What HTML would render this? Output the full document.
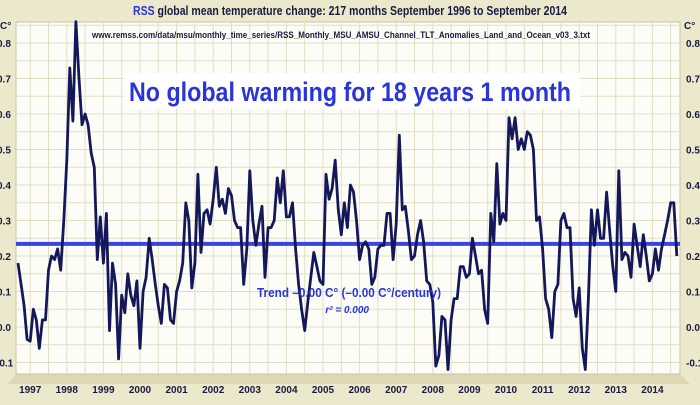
<!DOCTYPE html>
<html><head><meta charset="utf-8">
<style>
html,body{margin:0;padding:0;background:#ece8cc;}
body{width:700px;height:400px;overflow:hidden;font-family:"Liberation Sans",Arial,sans-serif;}
</style></head>
<body>
<svg id="chart" width="700" height="400" xmlns="http://www.w3.org/2000/svg">
<rect x="0" y="0" width="700" height="400" fill="#ece8cc"/>
<polygon points="16,374 680,374 690,384 8,384" fill="#dcd7b4"/>
<rect x="16" y="22" width="664" height="352" fill="#fdfdf8" stroke="#c9c4a4"/>
<g id="grid"></g>
<g id="yl"></g>
<g id="yr"></g>
<g id="xl"></g>
<text x="133" y="15" textLength="434" lengthAdjust="spacingAndGlyphs" font-size="12.5" font-weight="bold" fill="#1a1a40"><tspan fill="#2a35d8">RSS</tspan> global mean temperature change: 217 months September 1996 to September 2014</text>
<text x="92" y="38" textLength="498" lengthAdjust="spacingAndGlyphs" font-size="9" font-weight="bold" fill="#1a1a40">www.remss.com/data/msu/monthly_time_series/RSS_Monthly_MSU_AMSU_Channel_TLT_Anomalies_Land_and_Ocean_v03_3.txt</text>
<rect x="124" y="73" width="456" height="36" fill="#ffffff"/>
<text x="129" y="101" textLength="442" lengthAdjust="spacingAndGlyphs" font-size="27" font-weight="bold" fill="#2a35d8">No global warming for 18 years 1 month</text>
<line id="trend" x1="16" x2="680" stroke="#3a44e0" stroke-width="4"/>
<path id="series" fill="none" stroke="#14185a" stroke-width="2.8" stroke-linejoin="round"/>
<text x="257" y="297" textLength="184" lengthAdjust="spacingAndGlyphs" font-size="13" font-weight="bold" fill="#2a35d8">Trend –0.00 C° (–0.00 C°/century)</text>
<text x="369" y="313" text-anchor="end" font-size="10" font-style="italic" font-weight="bold" fill="#2a35d8">r² = 0.000</text>
</svg>
<script>
const values = [0.18,0.12,0.06,-0.035,-0.04,0.05,0.02,-0.06,0.02,0.02,0.16,0.20,0.19,0.22,0.16,0.30,
0.47,0.73,0.58,0.86,0.70,0.57,0.60,0.57,0.49,0.45,0.19,0.31,
0.18,0.32,-0.01,0.18,0.12,-0.09,0.09,0.04,0.15,0.09,0.06,0.13,
-0.06,0.10,0.14,0.25,0.19,0.12,0.06,0.01,0.12,0.11,0.02,0.01,
0.10,0.13,0.18,0.35,0.30,0.11,0.18,0.43,0.21,0.32,0.33,0.29,
0.36,0.45,0.34,0.36,0.32,0.39,0.37,0.30,0.28,0.28,0.12,0.22,
0.44,0.30,0.23,0.29,0.34,0.14,0.28,0.28,0.30,0.42,0.35,0.44,
0.31,0.31,0.35,0.22,0.12,0.05,-0.01,0.07,0.14,0.21,0.17,0.13,
0.12,0.43,0.36,0.39,0.47,0.33,0.26,0.35,0.28,0.40,0.38,0.30,
0.19,0.23,0.24,0.22,0.12,0.14,0.22,0.23,0.23,0.32,0.32,0.19,
0.29,0.54,0.33,0.34,0.27,0.19,0.20,0.26,0.30,0.24,0.13,0.12,
0.07,-0.11,-0.08,0.03,0.02,-0.12,0.02,0.08,0.08,0.17,0.17,0.14,
0.15,0.25,0.20,0.15,0.16,0.05,0.01,0.32,0.24,0.46,0.29,0.32,
0.30,0.59,0.53,0.59,0.50,0.53,0.50,0.55,0.54,0.50,0.30,0.31,
0.22,0.08,0.05,-0.03,0.10,0.12,0.30,0.32,0.28,0.28,0.08,0.03,
0.11,-0.06,-0.12,0.08,0.33,0.23,0.33,0.25,0.25,0.38,0.27,0.17,
0.10,0.44,0.19,0.21,0.20,0.14,0.29,0.23,0.17,0.26,0.20,0.13,
0.15,0.22,0.16,0.22,0.26,0.30,0.35,0.35,0.20];
const trendValue = [0.234];
const yTicks = [-0.1,0.0,0.1,0.2,0.3,0.4,0.5,0.6,0.7,0.8];
const yTickLabels = ["-0.1","0.0","0.1","0.2","0.3","0.4","0.5","0.6","0.7","0.8"];
const years = [1997,1998,1999,2000,2001,2002,2003,2004,2005,2006,2007,2008,2009,2010,2011,2012,2013,2014];

const NS="http://www.w3.org/2000/svg";
function xScale(i){return 18+3.05*i;}
function yScale(v){return 327-355*v;}
function mk(tag,attrs,parent,txt){const e=document.createElementNS(NS,tag);for(const k in attrs)e.setAttribute(k,attrs[k]);if(txt!==undefined)e.textContent=txt;parent.appendChild(e);return e;}
const grid=document.getElementById('grid'),yl=document.getElementById('yl'),yr=document.getElementById('yr'),xl=document.getElementById('xl');
for(let k=-2;k<=17;k++){const y=yScale(k*0.05);if(y<22||y>374)continue;
 const l=mk('line',{x1:16,x2:680,y1:y,y2:y,stroke:'#e2dec6','stroke-width':1},grid);
 
 }
for(let m=4;m<=216;m+=6){const x=xScale(m);
 const l=mk('line',{x1:x,x2:x,y1:22,y2:374,stroke:'#e2dec6','stroke-width':1},grid);
 
 }
yTicks.forEach((v,j)=>{
 const lbl=yTickLabels[j];
 const t=mk('text',{x:(lbl[0]==='-'?-4:-3),y:yScale(v)+4,'font-size':10,'font-weight':'bold',fill:'#1a1a40'},yl,lbl);
 
 
 const t2=mk('text',{x:686,y:yScale(v)+4,'font-size':10,'font-weight':'bold',fill:'#1a1a40'},yr,lbl);
 
 });
const u1=mk('text',{x:0,y:29,'font-size':10,'font-weight':'bold',fill:'#1a1a40'},yl,'C°');


const u2=mk('text',{x:684,y:29,'font-size':10,'font-weight':'bold',fill:'#1a1a40'},yr,'C°');


years.forEach(yv=>{const i=(yv-1997)*12+4;
 const t=mk('text',{x:xScale(i),y:393,'text-anchor':'middle','font-size':10,'font-weight':'bold',fill:'#1a1a40'},xl,String(yv));
 
 });
const tr=document.getElementById('trend');tr.setAttribute('y1',yScale(trendValue[0]));tr.setAttribute('y2',yScale(trendValue[0]));
document.getElementById('series').setAttribute('d',values.map((v,i)=>(i?'L':'M')+xScale(i).toFixed(1)+','+yScale(v).toFixed(1)).join(''));
</script>
</body></html>
